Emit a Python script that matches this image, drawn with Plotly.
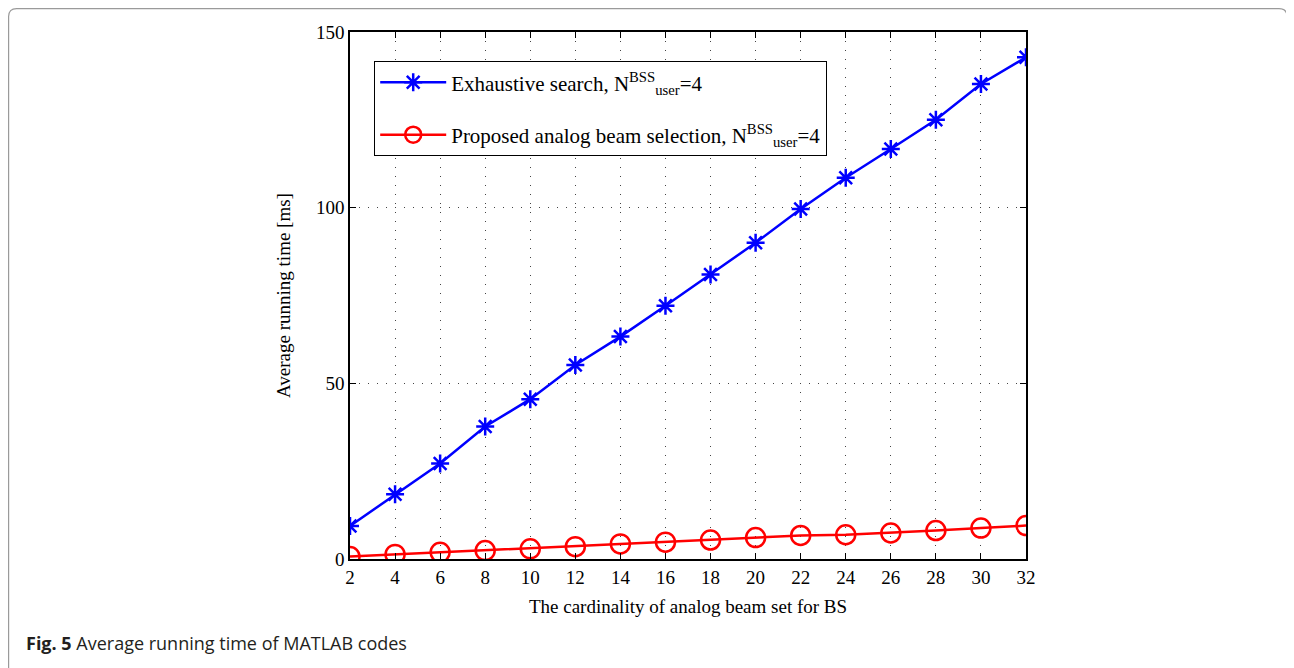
import plotly.graph_objects as go

# Data
cardinality = [2, 4, 6, 8, 10, 12, 14, 16, 18, 20, 22, 24, 26, 28, 30, 32]
exhaustive_ms = [9.4, 18.4, 27.2, 37.7, 45.5, 55.2, 63.3, 72.1, 81.0, 90.0, 99.6, 108.5, 116.7, 125.0, 135.2, 142.8]
proposed_ms = [0.7, 1.3, 1.9, 2.4, 2.9, 3.5, 4.3, 4.8, 5.4, 6.1, 6.7, 6.9, 7.4, 8.1, 8.8, 9.5]
x_ticks = list(range(2, 33, 2))
y_ticks = [0, 50, 100, 150]

name_exh = "Exhaustive search, N<sup>BSS</sup><sub>user</sub>=4"
name_prop = "Proposed analog beam selection, N<sup>BSS</sup><sub>user</sub>=4"

serif = "Liberation Serif, Times New Roman, serif"

fig = go.Figure()
fig.add_trace(go.Scatter(
    x=cardinality, y=exhaustive_ms, mode="lines+markers", name=name_exh,
    legendgroup="a",
    line=dict(color="#0000ff", width=2.5),
    marker=dict(symbol="asterisk-open", size=15, color="#0000ff",
                line=dict(color="#0000ff", width=2.5)),
))
fig.add_trace(go.Scatter(
    x=cardinality, y=proposed_ms, mode="lines+markers", name=name_prop,
    legendgroup="b",
    line=dict(color="#ff0000", width=2.5),
    marker=dict(symbol="circle-open", size=19, color="#ff0000",
                line=dict(color="#ff0000", width=2.5)),
))

axis_common = dict(
    showline=True, linecolor="black", linewidth=1.5, mirror="ticks",
    ticks="inside", ticklen=6, tickcolor="black",
    showgrid=True, gridcolor="#444444", griddash="1px,8px", gridwidth=1,
    zeroline=False,
    tickfont=dict(family=serif, size=19, color="black"),
    title_font=dict(family=serif, size=19, color="black"),
)

fig.update_xaxes(range=[2, 32], tickvals=x_ticks, ticktext=[str(v) for v in x_ticks],
                 title_text="The cardinality of analog beam set for BS", title_standoff=13,
                 **axis_common)
fig.update_yaxes(range=[0, 150], tickvals=y_ticks, ticktext=[str(v) for v in y_ticks],
                 title_text="Average running time [ms]", title_standoff=20,
                 **axis_common)

# Outer rounded frame (pixel-sized, anchored at plot origin = page px (350, 559))
x0, x1 = 8.6 - 350, 1287 - 350
y0, y1 = 559 - 700, 559 - 8.6
r = 8
path = (f"M {x0+r},{y1} L {x1-r},{y1} Q {x1},{y1} {x1},{y1-r} "
        f"L {x1},{y0} L {x0},{y0} L {x0},{y1-r} Q {x0},{y1} {x0+r},{y1} Z")
fig.add_shape(type="path", xref="paper", yref="paper", xsizemode="pixel", ysizemode="pixel",
              xanchor=0, yanchor=0, path=path, line=dict(color="#9a9a9a", width=1.2),
              fillcolor="rgba(0,0,0,0)", layer="below")

fig.add_annotation(
    xref="paper", yref="paper", x=(24 - 350) / 676, y=(559 - 643) / 527,
    xanchor="left", yanchor="middle", showarrow=False,
    text="<b>Fig. 5</b> Average running time of MATLAB codes",
    font=dict(family="Open Sans, Noto Sans, sans-serif", size=18, color="#231f20"),
)

# page has an 8px body margin: figure is offset by 8px
fig.update_layout(
    width=1286, height=660,
    margin=dict(l=342, r=268, t=24, b=109),
    paper_bgcolor="white", plot_bgcolor="white",
    showlegend=True,
    legend=dict(
        x=(374 - 350) / 676, y=(559 - 61) / 527, xanchor="left", yanchor="top",
        bgcolor="white", bordercolor="black", borderwidth=1.2,
        font=dict(family=serif, size=21, color="black"),
        tracegroupgap=22, itemwidth=66,
    ),
)

fig.write_html("out.html")
